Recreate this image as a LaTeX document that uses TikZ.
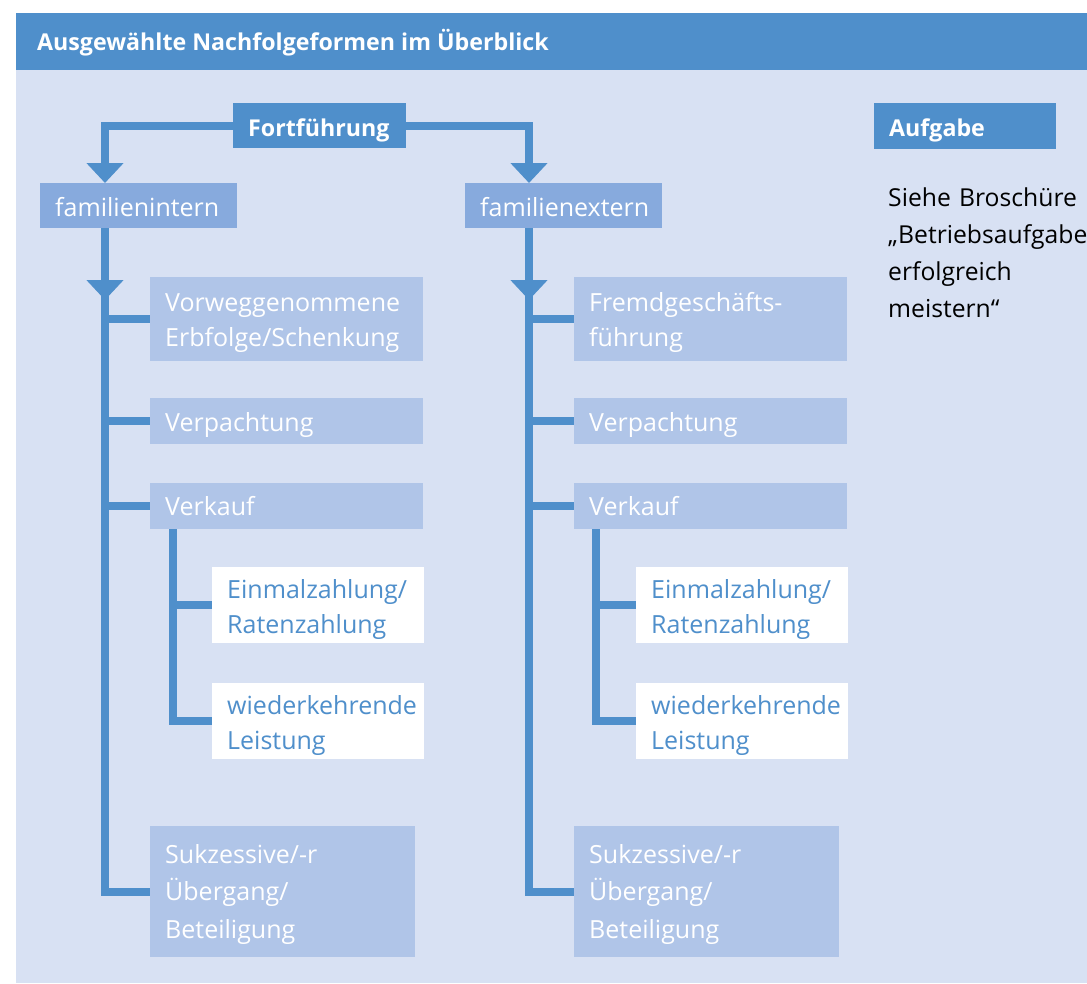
\documentclass[tikz,border=0pt]{standalone}
\usepackage{fontspec}
\setmainfont{Open Sans}
\usetikzlibrary{arrows.meta}
\definecolor{hdr}{HTML}{4F8FCB}
\definecolor{bgc}{HTML}{D8E1F3}
\definecolor{midc}{HTML}{87AADD}
\definecolor{subc}{HTML}{B0C5E8}
\tikzset{
  base/.style={anchor=north west, inner xsep=15pt, inner ysep=0pt, align=left,
    font=\fontsize{25}{35}\selectfont},
  bx/.style n args={3}{base, text width=#1, text height=#2, text depth=#3},
  topbox/.style={fill=hdr, text=white, font=\fontsize{23.2}{30}\selectfont\bfseries},
  midbox/.style={fill=midc, text=white},
  subbox/.style={fill=subc, text=white},
  whitebox/.style={fill=white, text=hdr},
  conn/.style={draw=hdr, line width=8pt, line join=miter},
  tip/.style={-{Triangle[width=36pt,length=20pt]}},
}
\begin{document}
\begin{tikzpicture}[x=1pt,y=-1pt]
\useasboundingbox (0,0) rectangle (1087,983);
\fill[white] (0,0) rectangle (1087,983);
\fill[bgc] (16,70) rectangle (1087,983);
\fill[hdr] (16,13) rectangle (1087,70);
\node[anchor=base west, inner sep=0pt, text=white, font=\fontsize{23.2}{28}\selectfont\bfseries] (title) at (37,50.5) {Ausgewählte Nachfolgeformen im Überblick};

% spine coordinates
\coordinate (L) at (105,0);
\coordinate (Ls) at (173,0);
\coordinate (R) at (529,0);
\coordinate (Rs) at (596,0);

\node[bx={143}{33.5}{11.5}, topbox] (fort) at (233,103) {Fortführung};
\node[bx={152}{33}{12.5}, topbox] (aufg) at (874,103) {Aufgabe};
\node[anchor=base west, inner sep=0pt, text width=260pt, align=left, font=\fontsize{24.7}{37}\selectfont] (siehe) at (888,206.7) {Siehe Broschüre\\„Betriebsaufgabe\\erfolgreich\\meistern“};

\node[bx={167}{33}{12}, midbox] (fi) at (40,183) {familienintern};
\node[bx={167}{33}{12}, midbox] (fe) at (465,183) {familienextern};

% left column
\node[bx={243}{34.7}{49}, subbox] (vor) at (150,277) {Vorweggenommene\\Erbfolge/Schenkung};
\node[bx={243}{33.5}{12.5}, subbox] (vpl) at (150,398) {Verpachtung};
\node[bx={243}{32.5}{13.5}, subbox] (vkl) at (150,483) {Verkauf};
\node[bx={182}{31}{45}, whitebox] (eil) at (212,567) {Einmalzahlung/\\Ratenzahlung};
\node[bx={182}{31}{45}, whitebox] (wil) at (212,683) {wiederkehrende\\Leistung};
\node[bx={235}{37}{94}, subbox, font=\fontsize{25}{37.5}\selectfont] (sul) at (150,826) {Sukzessive/-r\\Übergang/\\Beteiligung};

% right column
\node[bx={243}{34.7}{49}, subbox] (fgf) at (574,277) {Fremdgeschäfts-\\führung};
\node[bx={243}{33.5}{12.5}, subbox] (vpr) at (574,398) {Verpachtung};
\node[bx={243}{32.5}{13.5}, subbox] (vkr) at (574,483) {Verkauf};
\node[bx={182}{31}{45}, whitebox] (eir) at (636,567) {Einmalzahlung/\\Ratenzahlung};
\node[bx={182}{31}{45}, whitebox] (wir) at (636,683) {wiederkehrende\\Leistung};
\node[bx={235}{37}{94}, subbox, font=\fontsize{25}{37.5}\selectfont] (sur) at (574,826) {Sukzessive/-r\\Übergang/\\Beteiligung};

% top connectors
\draw[conn, tip] (fort.west) -| (L |- fi.north);
\draw[conn, tip] (fort.east) -| (R |- fe.north);

% left spine
\draw[conn] (L |- fi.south) -- (L |- sul.west) -- (sul.west);
\draw[conn, tip] (L |- fi.south) -- (L |- 0,300);
\draw[conn] (L |- vor.west) -- (vor.west);
\draw[conn] (L |- vpl.west) -- (vpl.west);
\draw[conn] (L |- vkl.west) -- (vkl.west);
\draw[conn] (Ls |- vkl.south) -- (Ls |- wil.west) -- (wil.west);
\draw[conn] (Ls |- eil.west) -- (eil.west);

% right spine
\draw[conn] (R |- fe.south) -- (R |- sur.west) -- (sur.west);
\draw[conn, tip] (R |- fe.south) -- (R |- 0,300);
\draw[conn] (R |- fgf.west) -- (fgf.west);
\draw[conn] (R |- vpr.west) -- (vpr.west);
\draw[conn] (R |- vkr.west) -- (vkr.west);
\draw[conn] (Rs |- vkr.south) -- (Rs |- wir.west) -- (wir.west);
\draw[conn] (Rs |- eir.west) -- (eir.west);
\end{tikzpicture}
\end{document}
